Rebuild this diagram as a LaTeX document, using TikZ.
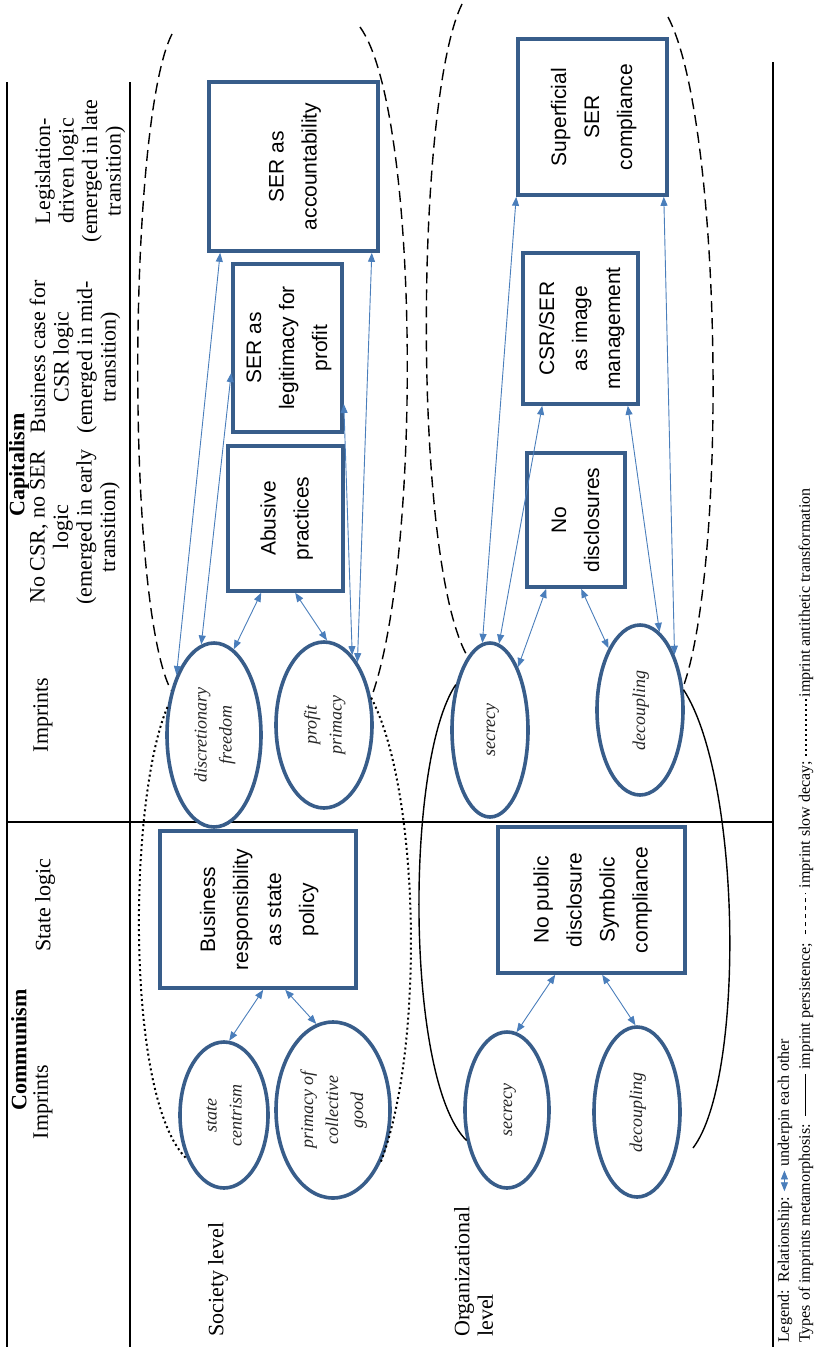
\documentclass[tikz,border=0pt]{standalone}
\usepackage{fontspec}
\setmainfont{Liberation Serif}
\setsansfont{Liberation Sans}
\usepackage{graphicx}
\usetikzlibrary{arrows.meta,shapes.geometric}

\definecolor{boxblue}{RGB}{56,93,138}
\definecolor{relblue}{RGB}{74,126,187}

% text turned to read bottom-to-top
\newcommand{\vtext}[1]{\rotatebox{90}{\begin{tabular}{@{}c@{}}#1\end{tabular}}}

\tikzset{
  frame/.style={line width=1.1pt},
  logicbox/.style={draw=boxblue, line width=3.6pt, fill=white, inner sep=0pt,
    font=\sffamily\fontsize{21}{33}\selectfont},
  imprint/.style={ellipse, draw=boxblue, line width=3.6pt, fill=white, inner sep=0pt,
    text=black!85, font=\itshape\fontsize{18}{25}\selectfont},
  rel/.style={relblue, line width=0.9pt, >={Triangle[length=9pt,width=7pt]}, <->},
  persist/.style={line width=1.4pt},
  decay/.style={line width=1.4pt, dash pattern=on 11pt off 6pt},
  antithetic/.style={line width=2pt, dash pattern=on 2pt off 3pt},
  hdr/.style={rotate=90, inner sep=0pt, align=center, font=\fontsize{22}{23.5}\selectfont},
  legend/.style={rotate=90, inner sep=0pt, anchor=west, font=\fontsize{16}{20}\selectfont},
}

\begin{document}
\begin{tikzpicture}[x=1pt, y=-1pt]
  \useasboundingbox (0,0) rectangle (818,1347);

  % table rules
  \draw[frame] (7,82) -- (7,1347);
  \draw[frame] (130,82) -- (130,1347);
  \draw[frame] (773,62) -- (773,1347);
  \draw[frame] (7,822) -- (773,822);

  % headers
  \node[hdr] (capit) at (19,465) {\textbf{Capitalism}};
  \node[hdr] (imp1)  at (43,715) {Imprints};
  \node[hdr] (nocsr) at (75,527) {No CSR, no SER\\logic\\(emerged in early\\transition)};
  \node[hdr] (bcase) at (75,357) {Business case for\\CSR logic\\(emerged in mid-\\transition)};
  \node[hdr] (legis) at (80,171) {Legislation-\\driven logic\\(emerged in late\\transition)};
  \node[hdr] (commu) at (19,1050) {\textbf{Communism}};
  \node[hdr] (imp0)  at (43,1102) {Imprints};
  \node[hdr] (state) at (45,905) {State logic};

  % levels
  \node[hdr, anchor=west] (soc) at (218,1337) {Society level};
  \node[hdr, anchor=north west, align=left] (org) at (454,1337) {Organizational\\level};

  % imprints
  \node[imprint, minimum width=94pt, minimum height=184pt] (df) at (214,735) {\vtext{discretionary\\freedom}};
  \node[imprint, minimum width=96pt, minimum height=166pt] (pp) at (324,725) {\vtext{profit\\primacy}};
  \node[imprint, minimum width=76pt, minimum height=174pt] (sec1) at (490,730) {\vtext{secrecy}};
  \node[imprint, minimum width=86pt, minimum height=170pt] (dec1) at (640,710) {\vtext{decoupling}};
  \node[imprint, minimum width=88pt, minimum height=146pt] (sc) at (224,1115) {\vtext{state\\centrism}};
  \node[imprint, minimum width=114pt, minimum height=176pt] (pcg) at (333,1110) {\vtext{primacy of\\collective\\good}};
  \node[imprint, minimum width=84pt, minimum height=156pt] (sec0) at (507,1110) {\vtext{secrecy}};
  \node[imprint, minimum width=86pt, minimum height=170pt] (dec0) at (637,1112) {\vtext{decoupling}};

  % metamorphosis
  \draw[decay] (172,34) .. controls (128,120) and (125,600) .. (df.134);
  \draw[decay] (360,27) .. controls (420,110) and (422,560) .. (pp.30);
  \draw[decay] (462,4) .. controls (415,100) and (412,560) .. (sec1.107);
  \draw[decay] (668,17) .. controls (722,120) and (728,560) .. (dec1.28);
  \draw[antithetic] (df.149) .. controls (128,800) and (125,1100) .. (sc.230);
  \draw[antithetic] (pp.30) .. controls (420,790) and (425,1050) .. (pcg.-49);
  \draw[persist] (sec1.127) .. controls (405,760) and (405,1080) .. (sec0.217);
  \draw[persist] (dec1.25) .. controls (742,780) and (745,1080) .. (693,1148);

  % logics
  \node[logicbox, minimum width=169pt, minimum height=169pt] (acc) at (293.5,166.5) {\vtext{SER as\\accountability}};
  \node[logicbox, minimum width=109pt, minimum height=168pt] (leg) at (287.5,348) {\vtext{SER as\\legitimacy for\\profit}};
  \node[logicbox, minimum width=115pt, minimum height=145pt] (abu) at (285.5,518.5) {\vtext{Abusive\\practices}};
  \node[logicbox, minimum width=149pt, minimum height=156pt] (sup) at (592.5,117) {\vtext{Superficial\\SER\\compliance}};
  \node[logicbox, minimum width=115pt, minimum height=151pt] (img) at (580.5,328.5) {\vtext{CSR/SER\\as image\\management}};
  \node[logicbox, minimum width=98pt, minimum height=134pt] (nod) at (576,520) {\vtext{No\\disclosures}};
  \node[logicbox, minimum width=196pt, minimum height=157pt] (brs) at (258,909.5) {\vtext{Business\\responsibility\\as state\\policy}};
  \node[logicbox, minimum width=187pt, minimum height=146pt] (npd) at (591.5,900) {\vtext{No public\\disclosure\\Symbolic\\compliance}};

  % relationships
  \draw[rel] (df.122) -- ([xshift=13pt]acc.south west);
  \draw[rel] (df.98) -- ([yshift=-25pt]leg.west);
  \draw[rel] (df.77) -- ([xshift=35pt]abu.south west);
  \draw[rel] (pp.88) -- ([xshift=69pt]abu.south west);
  \draw[rel] (pp.68) -- ([yshift=-56pt]leg.east);
  \draw[rel] (pp.62) -- ([xshift=-8pt]acc.south east);
  \draw[rel] (sec1.95) -- (sup.south west);
  \draw[rel] (sec1.84) -- ([xshift=21pt]img.south west);
  \draw[rel] (sec1.66) -- ([xshift=21pt]nod.south west);
  \draw[rel] (dec1.117) -- ([xshift=56pt]nod.south west);
  \draw[rel] (dec1.76) -- ([xshift=-12pt]img.south east);
  \draw[rel] (dec1.58) -- ([xshift=-5pt]sup.south east);
  \draw[rel] (sc.86) -- ([xshift=105pt]brs.south west);
  \draw[rel] (pcg.101) -- ([xshift=127pt]brs.south west);
  \draw[rel] (sec0.83) -- ([xshift=59pt]npd.south west);
  \draw[rel] (dec0.91) -- ([xshift=106pt]npd.south west);

  % legend
  \node[legend] (lgd1) at (785,1343) {Legend:\ \ Relationship: \tikz[baseline=-0.6ex]\draw[rel] (0,0) -- (1.3em,0); underpin each other};
  \node[legend] (lgd2) at (806,1343) {Types of imprints metamorphosis:\ \ \tikz[baseline=-0.6ex]\draw[line width=0.6pt] (0,0) -- (2.6em,0); imprint persistence;\ \ \tikz[baseline=-0.6ex]\draw[line width=1.5pt, dash pattern=on 4pt off 4pt] (0,0) -- (2.6em,0); imprint slow decay; \tikz[baseline=-0.6ex]\draw[antithetic] (0,0) -- (3.6em,0);imprint antithetic transformation};
\end{tikzpicture}
\end{document}
